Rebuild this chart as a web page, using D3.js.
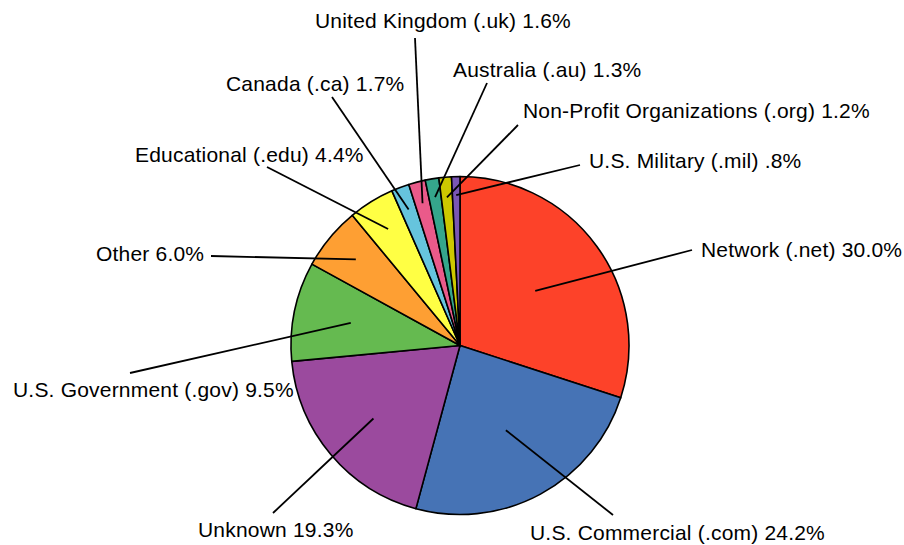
<!DOCTYPE html>
<html>
<head>
<meta charset="utf-8">
<script src="https://cdn.jsdelivr.net/npm/d3@7"></script>
<style>
  body { margin: 0; background: #fff; }
  text { font-family: "Liberation Sans", Arial, Helvetica, sans-serif; font-size: 21px; letter-spacing: 0.2px; fill: #000; }
</style>
</head>
<body>
<svg id="pie" width="904" height="545"></svg>
<script>
const categories = [
  "Network (.net)", "U.S. Commercial (.com)", "Unknown", "U.S. Government (.gov)",
  "Other", "Educational (.edu)", "Canada (.ca)", "United Kingdom (.uk)",
  "Australia (.au)", "Non-Profit Organizations (.org)", "U.S. Military (.mil)"
];
const shares = [30.0, 24.2, 19.3, 9.5, 6.0, 4.4, 1.7, 1.6, 1.3, 1.2, 0.8];
const shareLabels = ["30.0%", "24.2%", "19.3%", "9.5%", "6.0%", "4.4%", "1.7%", "1.6%", "1.3%", "1.2%", ".8%"];
const colors = [
  "#fd4229", "#4673b5", "#9b4a9e", "#65ba50", "#fe9f33", "#ffff44",
  "#66c4dd", "#ea5a8a", "#35a68c", "#cdc800", "#7a56b4"
];

// leader line: inner end as fraction of radius, label anchor, line outer end
const innerFrac = [0.55, 0.57, 0.67, 0.66, 0.80, 0.81, 0.86, 0.87, 0.89, 0.88, 0.89];
const labelAt = [[701, 257], [530, 540], [198, 537], [13, 397], [96, 261], [135, 162],
                 [226, 91], [315, 28], [453, 77], [523, 118], [589, 168]];
const lineEnd = [[692, 250], [613, 515], [273, 513], [130, 373], [211, 256], [267, 167],
                 [332, 97], [415, 38], [487, 83], [518, 125], [580, 165]];

const svg = d3.select("#pie");
const cx = 460, cy = 345.5, r = 169;

const pie = d3.pie().sort(null).value(d => d);
const arcs = pie(shares);
const arc = d3.arc().innerRadius(0).outerRadius(r);

const g = svg.append("g").attr("transform", `translate(${cx},${cy})`);

g.selectAll("path")
  .data(arcs)
  .join("path")
  .attr("d", arc)
  .attr("fill", (d, i) => colors[i])
  .attr("stroke", "#000")
  .attr("stroke-width", 1.6)
  .attr("stroke-linejoin", "round");

g.selectAll("line")
  .data(arcs)
  .join("line")
  .attr("x1", (d, i) => d3.arc().innerRadius(innerFrac[i] * r).outerRadius(innerFrac[i] * r).centroid(d)[0])
  .attr("y1", (d, i) => d3.arc().innerRadius(innerFrac[i] * r).outerRadius(innerFrac[i] * r).centroid(d)[1])
  .attr("x2", (d, i) => lineEnd[i][0] - cx)
  .attr("y2", (d, i) => lineEnd[i][1] - cy)
  .attr("stroke", "#000")
  .attr("stroke-width", 1.8);

svg.selectAll("text.lbl")
  .data(categories)
  .join("text")
  .attr("class", "lbl")
  .attr("x", (d, i) => labelAt[i][0])
  .attr("y", (d, i) => labelAt[i][1])
  .text((d, i) => `${d} ${shareLabels[i]}`);
</script>
</body>
</html>
